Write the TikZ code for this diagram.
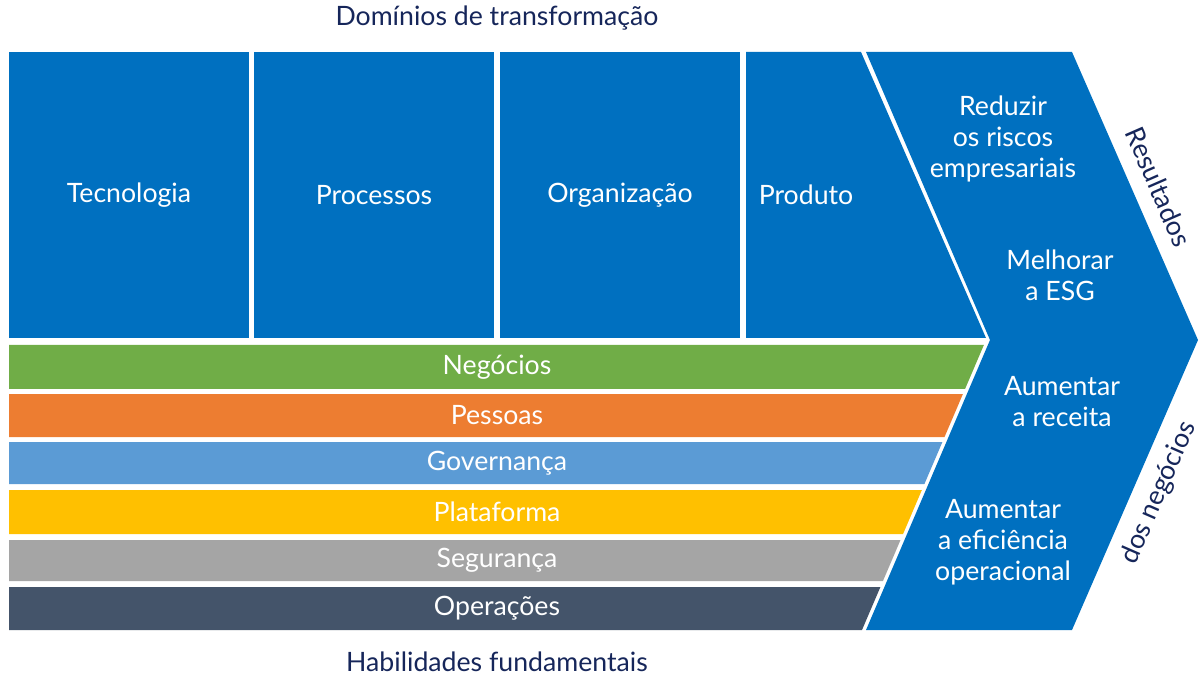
\documentclass[tikz,border=0pt]{standalone}
\usepackage{fontspec}
\setmainfont{Lato}
\definecolor{cblue}{RGB}{0,112,192}
\definecolor{cnavy}{RGB}{22,38,90}
\definecolor{cgreen}{RGB}{112,173,71}
\definecolor{corange}{RGB}{237,125,49}
\definecolor{clblue}{RGB}{91,155,213}
\definecolor{cyellow}{RGB}{255,192,0}
\definecolor{cgray}{RGB}{165,165,165}
\definecolor{cdark}{RGB}{68,84,106}
\begin{document}
\begin{tikzpicture}[x=0.75pt, y=-0.75pt, font=\fontsize{20}{23.25}\selectfont,
    dom/.style = {fill=cblue},
    txt/.style = {text=white, align=center},
    caption/.style = {text=cnavy, inner sep=1pt}]
    \useasboundingbox (0,0) rectangle (1200,677);

    % domains
    \fill[dom] (9,52) rectangle (249,338);
    \fill[dom] (254,52) rectangle (494,338);
    \fill[dom] (500,52) rectangle (740,338);
    \fill[dom] (746,52) -- (861,52) -- (986,338) -- (746,338) -- cycle;

    \node[txt] (tec) at (129,195) {Tecnologia};
    \node[txt] (proc) at (374,195) {Processos};
    \node[txt] (org) at (620,195) {Organização};
    \node[txt] (prod) at (806,195) {Produto};

    % chevron
    \fill[dom] (866,52) -- (1072,52) -- (1198,340) -- (1072,630) -- (866,630) -- (990,340) -- cycle;

    \node[txt] (r1) at (1003,139) {Reduzir\\os riscos\\empresariais};
    \node[txt] (r2) at (1060,275) {Melhorar\\a ESG};
    \node[txt] (r3) at (1062,402) {Aumentar\\a receita};
    \node[txt] (r4) at (1003,542) {Aumentar\\a eficiência\\operacional};

    % capabilities
    \foreach \t/\b/\c/\l [count=\i] in {345/389/cgreen/Negócios, 394/437/corange/Pessoas,
        442/484/clblue/Governança, 490/534/cyellow/Plataforma,
        540/581/cgray/Segurança, 587/630/cdark/Operações} {
        \pgfmathsetmacro\xa{986-0.4276*(\t-340)}
        \pgfmathsetmacro\xb{986-0.4276*(\b-340)}
        \fill[\c] (9,\t) -- (\xa,\t) -- (\xb,\b) -- (9,\b) -- cycle;
        \node[txt] (band\i) at (497,{(\t+\b)/2}) {\l};
    }

    % captions
    \node[caption] (top) at (497,18) {Domínios de transformação};
    \node[caption] (bottom) at (497,662) {Habilidades fundamentais};
    \node[caption, rotate=-66.4] (res) at (1159,187) {Resultados};
    \node[caption, rotate=66.4] (neg) at (1159,493) {dos negócios};
\end{tikzpicture}
\end{document}
